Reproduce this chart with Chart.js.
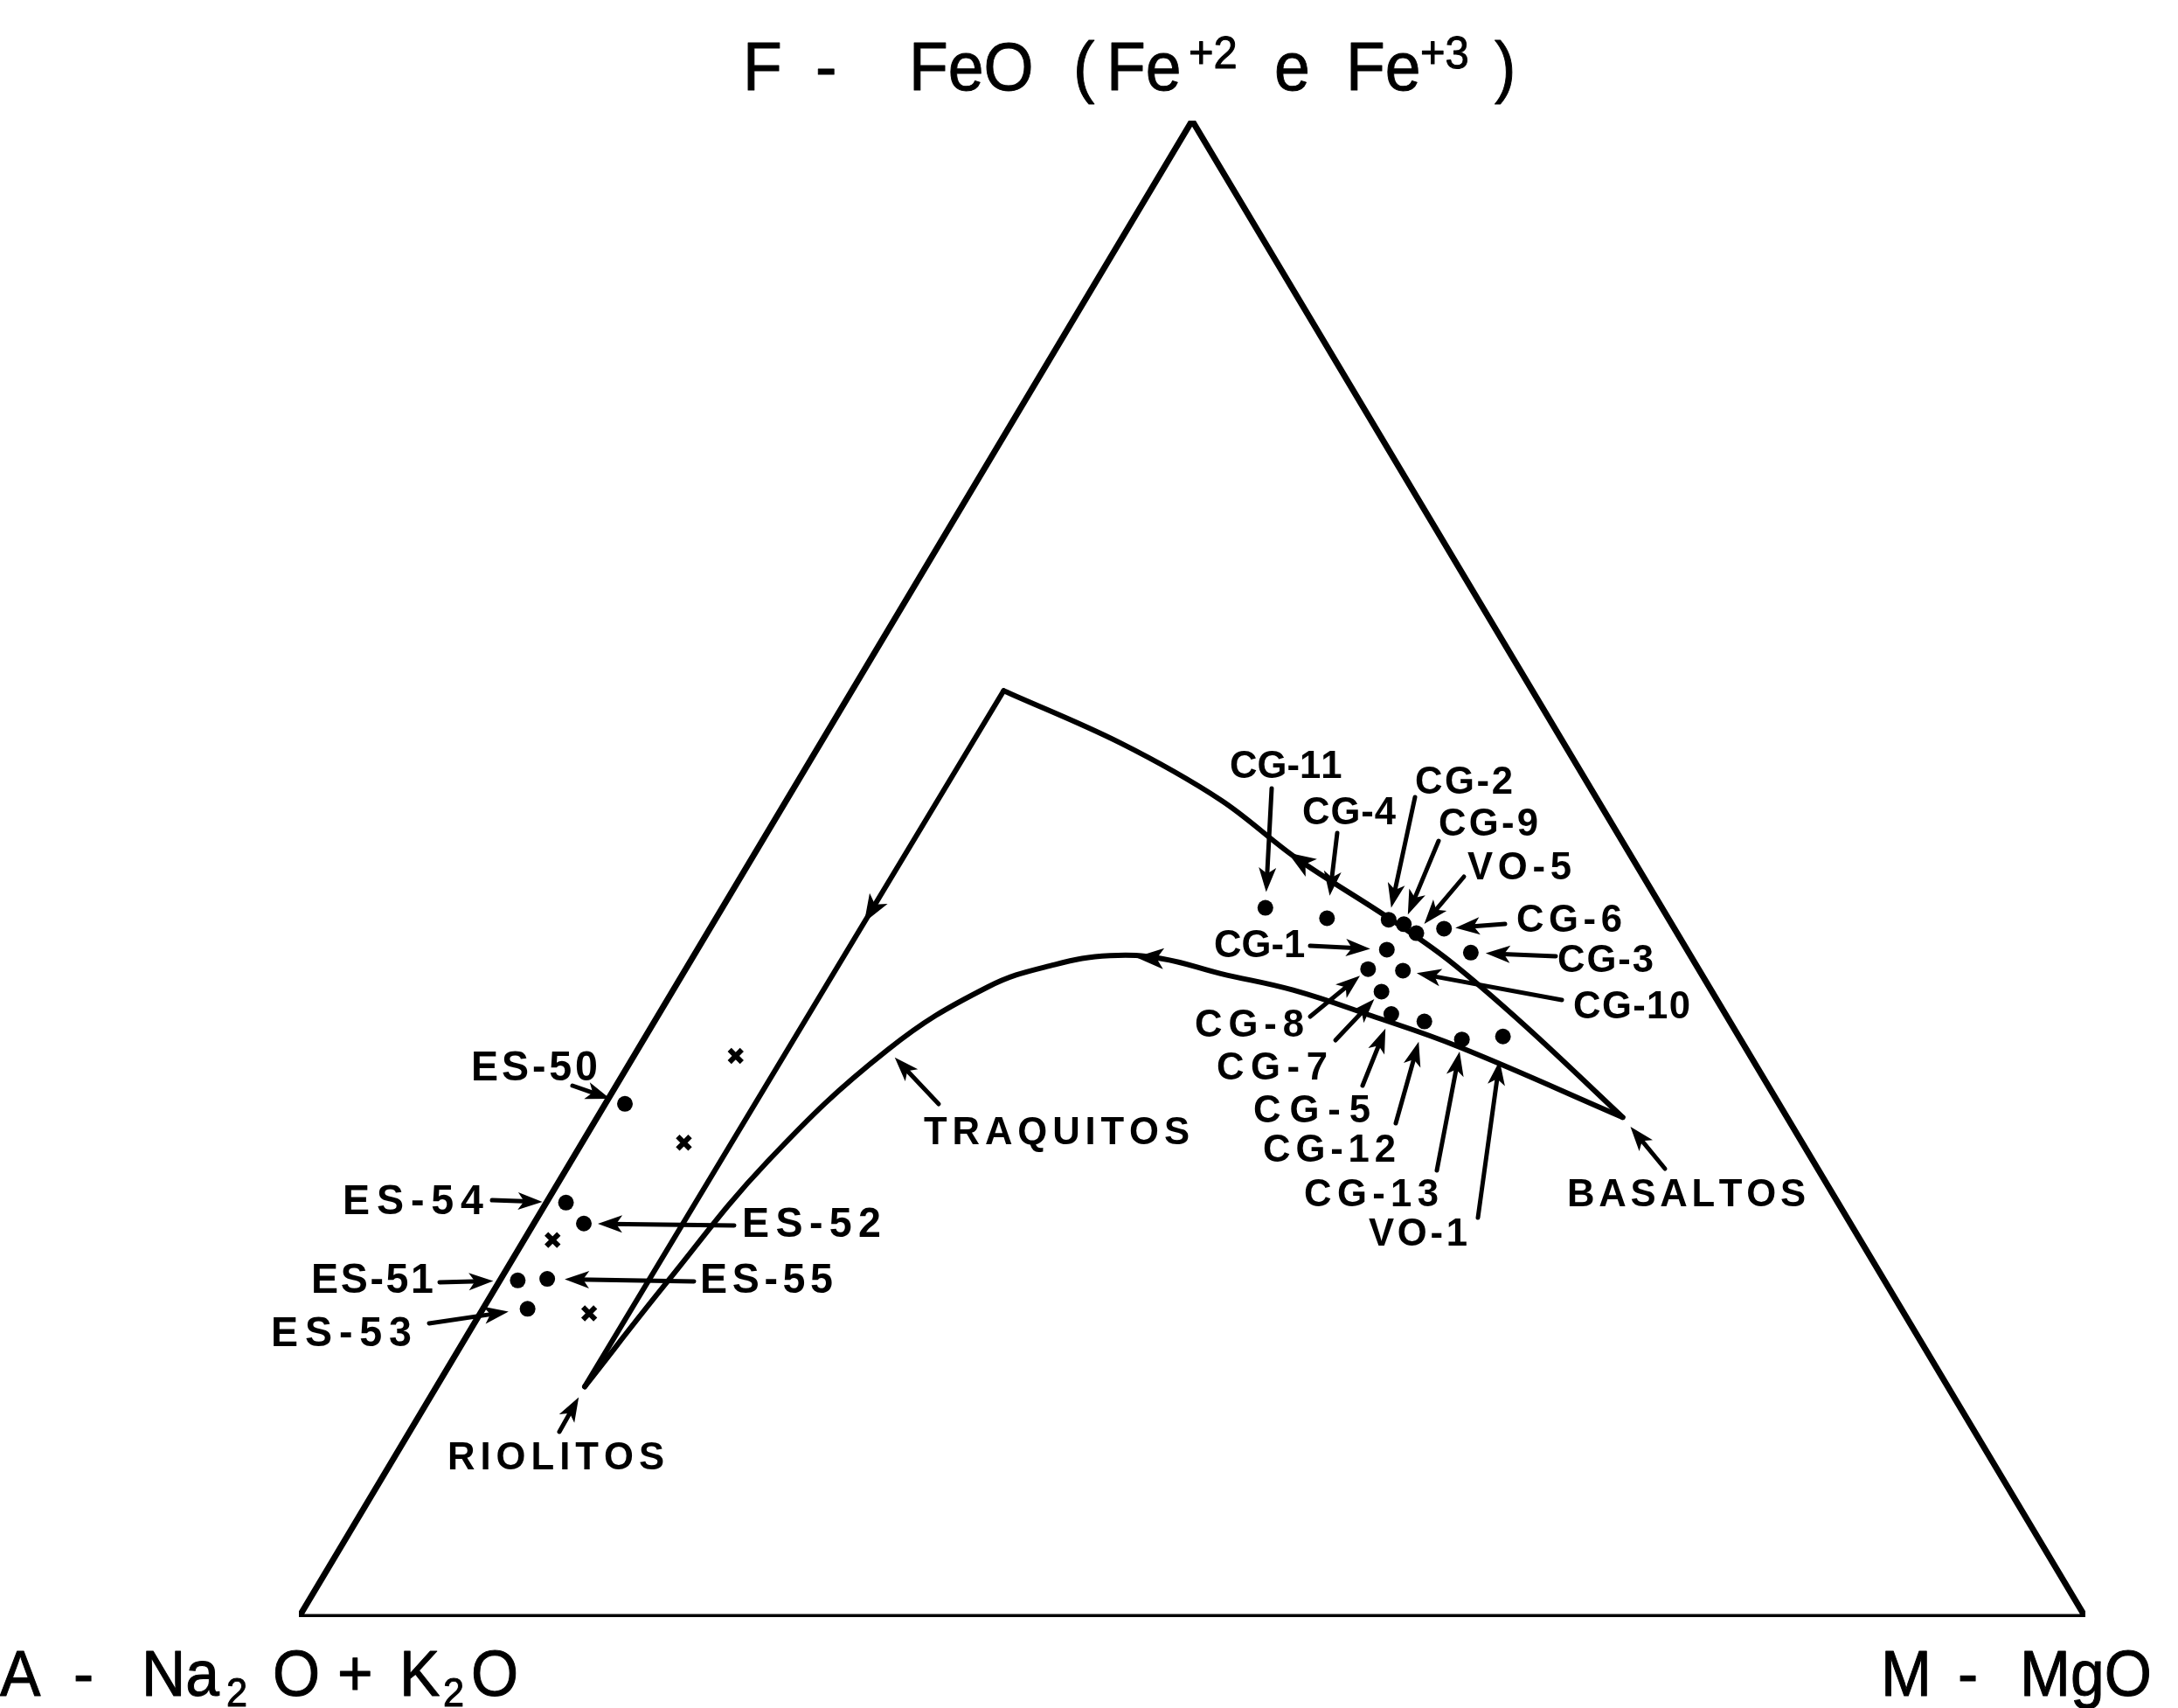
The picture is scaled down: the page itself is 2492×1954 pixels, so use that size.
<!DOCTYPE html>
<html lang="pt">
<head>
<meta charset="utf-8">
<title>Diagrama AFM</title>
<script src="https://cdn.jsdelivr.net/npm/chart.js@4.4.1/dist/chart.umd.min.js"></script>
<style>
    html, body { margin: 0; padding: 0; background: #ffffff; }
    #afm { display: block; }
</style>
</head>
<body>
<canvas id="afm" width="2492" height="1954" style="width:2492px;height:1954px"></canvas>
<script>
// Composições normalizadas [A, F, M] em %
const cgNames = ["CG-11", "CG-4", "CG-2", "CG-9", "VO-5", "CG-6", "CG-1", "CG-3",
    "CG-10", "CG-8", "CG-7", "CG-5", "CG-12", "CG-13", "VO-1"];
const cgAFM = [
    [22.2, 47.4, 30.4], [19.1, 46.7, 34.2], [15.7, 46.6, 37.7], [15.0, 46.3, 38.7],
    [14.6, 45.7, 39.7], [12.9, 46.0, 41.1], [16.8, 44.6, 38.6], [12.2, 44.4, 43.4],
    [16.6, 43.2, 40.2], [18.5, 43.3, 38.2], [18.5, 41.8, 39.7], [18.7, 40.3, 41.0],
    [17.1, 39.8, 43.1], [15.6, 38.6, 45.8], [13.2, 38.8, 48.0]
];

const esNames = ["ES-50", "ES-54", "ES-52", "ES-51", "ES-55", "ES-53"];
const esAFM = [
    [64.6, 34.3, 1.1], [71.2, 27.7, 1.1], [70.9, 26.3, 2.8],
    [76.5, 22.5, 1.0], [74.8, 22.6, 2.6], [76.9, 20.6, 2.5]
];

// amostras marcadas com x (sem rótulo)
const crossAFM = [[56.8, 37.5, 5.7], [62.6, 31.7, 5.7], [73.2, 25.2, 1.6], [73.6, 20.3, 6.1]];

// trends de diferenciação
const basaltTrend = [
    [29.6, 61.9, 8.5], [24.8, 58.4, 16.8], [21.1, 54.6, 24.3], [18.8, 50.7, 30.5],
    [15.7, 46.8, 37.5], [13.7, 43.9, 42.4], [11.6, 39.5, 48.9], [9.2, 33.4, 57.4]
];
const rhyoliteTrend = [[29.6, 61.9, 8.5], [76.3, 15.4, 8.3]];
const trachyteTrend = [
    [76.3, 15.4, 8.3], [68.3, 22.3, 9.4], [58.6, 30.4, 11.0], [48.1, 37.9, 14.0],
    [40.4, 42.1, 17.5], [35.9, 43.6, 20.5], [32.5, 44.2, 23.3], [29.7, 44.0, 26.3],
    [26.9, 43.0, 30.1], [23.4, 41.9, 34.7], [19.9, 40.2, 39.9], [16.0, 38.1, 45.9],
    [9.2, 33.4, 57.4]
];

const vertices = [[100, 0, 0], [0, 100, 0], [0, 0, 100], [100, 0, 0]];

const INK = "#000000";
const FONT = "'Liberation Sans', Arial, sans-serif";

// base do triângulo: A em x=0, M em x=100; altura = F
function toXY([a, f, m]) {
    return { x: m + f / 2, y: f };
}

// rótulos com seta: posição do texto (esquerda, centro), largura, origem da seta
const callouts = [
    { text: "CG-11", x: 1407, y: 874, w: 121, tail: [1455, 902], gap: 18 },
    { text: "CG-4", x: 1490, y: 927, w: 107, tail: [1530, 953], gap: 26 },
    { text: "CG-2", x: 1619, y: 892, w: 112, tail: [1619, 912], gap: 14 },
    { text: "CG-9", x: 1646, y: 940, w: 114, tail: [1646, 962], gap: 12 },
    { text: "VO-5", x: 1679, y: 990, w: 119, tail: [1675, 1003], gap: 14 },
    { text: "CG-6", x: 1735, y: 1050, w: 121, tail: [1722, 1057], gap: 13 },
    { text: "CG-1", x: 1389, y: 1079, w: 103, tail: [1499, 1082], gap: 19 },
    { text: "CG-3", x: 1782, y: 1096, w: 110, tail: [1780, 1094], gap: 17 },
    { text: "CG-10", x: 1800, y: 1149, w: 134, tail: [1787, 1144], gap: 16 },
    { text: "CG-8", x: 1367, y: 1170, w: 125, tail: [1499, 1163], gap: 12 },
    { text: "CG-7", x: 1392, y: 1219, w: 127, tail: [1528, 1190], gap: 12 },
    { text: "CG-5", x: 1434, y: 1268, w: 134, tail: [1559, 1242], gap: 18 },
    { text: "CG-12", x: 1445, y: 1313, w: 152, tail: [1597, 1285], gap: 24 },
    { text: "CG-13", x: 1492, y: 1364, w: 154, tail: [1644, 1339], gap: 14 },
    { text: "VO-1", x: 1566, y: 1409, w: 113, tail: [1691, 1393], gap: 28 },
    { text: "ES-50", x: 539, y: 1219, w: 145, tail: [655, 1242], gap: 18, size: 48 },
    { text: "ES-54", x: 392, y: 1372, w: 161, tail: [563, 1373], gap: 27, size: 48 },
    { text: "ES-52", x: 849, y: 1398, w: 159, tail: [840, 1402], gap: 16, size: 48 },
    { text: "ES-51", x: 356, y: 1462, w: 140, tail: [503, 1467], gap: 28, size: 48 },
    { text: "ES-55", x: 801, y: 1462, w: 152, tail: [794, 1466], gap: 20, size: 48 },
    { text: "ES-53", x: 310, y: 1523, w: 161, tail: [491, 1514], gap: 22, size: 48 },
    { text: "BASALTOS", x: 1793, y: 1364, w: 273, tail: [1905, 1337], gap: 14, trend: [1, 7] },
    { text: "TRAQUITOS", x: 1057, y: 1293, w: 304, tail: [1074, 1263], gap: 12, trend: [3, 3] },
    { text: "RIOLITOS", x: 512, y: 1665, w: 248, tail: [640, 1638], gap: 14, trend: [2, 1] }
];

// setas de sentido sobre os trends: dataset, de, para, fração
const trendArrows = [
    { set: 1, from: 4, to: 3, t: 1 },
    { set: 2, from: 0, to: 1, t: 0.32 },
    { set: 3, from: 7, to: 6, t: 0.3 }
];

// textos dos vértices (com sobrescritos e subscritos)
const cornerRuns = [
    { t: "F", x: 850, base: 103, size: 78 },
    { t: "-", x: 933, base: 103, size: 78 },
    { t: "FeO", x: 1040, base: 103, size: 78 },
    { t: "(", x: 1228, base: 103, size: 78 },
    { t: "Fe", x: 1266, base: 103, size: 78 },
    { t: "+2", x: 1360, base: 78, size: 52 },
    { t: "e", x: 1458, base: 103, size: 78 },
    { t: "Fe", x: 1540, base: 103, size: 78 },
    { t: "+3", x: 1625, base: 78, size: 52 },
    { t: ")", x: 1710, base: 103, size: 78 },
    { t: "A", x: 0, base: 1940, size: 74 },
    { t: "-", x: 84, base: 1940, size: 74 },
    { t: "Na", x: 162, base: 1940, size: 74 },
    { t: "2", x: 259, base: 1952, size: 46 },
    { t: "O", x: 312, base: 1940, size: 74 },
    { t: "+", x: 386, base: 1940, size: 74 },
    { t: "K", x: 457, base: 1940, size: 74 },
    { t: "2", x: 507, base: 1952, size: 46 },
    { t: "O", x: 539, base: 1940, size: 74 },
    { t: "M", x: 2152, base: 1940, size: 74 },
    { t: "-", x: 2240, base: 1940, size: 74 },
    { t: "MgO", x: 2311, base: 1940, size: 74 }
];

function drawSpaced(ctx, text, left, base, width, squeeze, outline) {
    const chars = Array.from(text);
    const widths = chars.map((c) => ctx.measureText(c).width * squeeze);
    const natural = widths.reduce((sum, w) => sum + w, 0);
    const gap = width && chars.length > 1 ? Math.max(0, (width - natural) / (chars.length - 1)) : 0;
    let x = left;
    chars.forEach((c, i) => {
        ctx.save();
        ctx.translate(x, base);
        ctx.scale(squeeze, 1);
        ctx.fillText(c, 0, 0);
        if (outline) {
            ctx.lineWidth = outline;
            ctx.strokeText(c, 0, 0);
        }
        ctx.restore();
        x += widths[i] + gap;
    });
}

function arrowHead(ctx, x, y, ux, uy, length, half) {
    ctx.beginPath();
    ctx.moveTo(x, y);
    ctx.lineTo(x - ux * length - uy * half, y - uy * length + ux * half);
    ctx.lineTo(x - ux * length * 0.75, y - uy * length * 0.75);
    ctx.lineTo(x - ux * length + uy * half, y - uy * length - ux * half);
    ctx.closePath();
    ctx.fill();
}

function leader(ctx, x0, y0, x1, y1, gap) {
    const len = Math.hypot(x1 - x0, y1 - y0);
    const ux = (x1 - x0) / len;
    const uy = (y1 - y0) / len;
    const hx = x1 - ux * gap;
    const hy = y1 - uy * gap;
    ctx.beginPath();
    ctx.moveTo(x0, y0);
    ctx.lineTo(hx - ux * 14, hy - uy * 14);
    ctx.stroke();
    arrowHead(ctx, hx, hy, ux, uy, 28, 10);
}

const annotationPlugin = {
    id: "afmAnnotations",
    afterDatasetsDraw(chart) {
        const ctx = chart.ctx;
        const byName = {};
        chart.getDatasetMeta(4).data.forEach((pt, i) => { byName[cgNames[i]] = pt; });
        chart.getDatasetMeta(5).data.forEach((pt, i) => { byName[esNames[i]] = pt; });

        ctx.save();
        ctx.fillStyle = INK;
        ctx.strokeStyle = INK;
        ctx.lineCap = "round";
        ctx.lineJoin = "round";

        trendArrows.forEach((a) => {
            const pts = chart.getDatasetMeta(a.set).data;
            const p0 = pts[a.from];
            const p1 = pts[a.to];
            const len = Math.hypot(p1.x - p0.x, p1.y - p0.y);
            const ux = (p1.x - p0.x) / len;
            const uy = (p1.y - p0.y) / len;
            const tx = p0.x + (p1.x - p0.x) * a.t;
            const ty = p0.y + (p1.y - p0.y) * a.t;
            arrowHead(ctx, tx + ux * 12, ty + uy * 12, ux, uy, 32, 12);
        });

        ctx.lineWidth = 5;
        ctx.textBaseline = "alphabetic";
        callouts.forEach((c) => {
            const size = c.size || 45;
            const target = c.trend
                ? chart.getDatasetMeta(c.trend[0]).data[c.trend[1]]
                : byName[c.text];
            ctx.font = `bold ${size}px ${FONT}`;
            drawSpaced(ctx, c.text, c.x, c.y + size * 0.36, c.w, 0.97, 0);
            if (target) {
                leader(ctx, c.tail[0], c.tail[1], target.x, target.y, c.gap);
            }
        });

        cornerRuns.forEach((r) => {
            ctx.font = `${r.size}px ${FONT}`;
            drawSpaced(ctx, r.t, r.x, r.base, 0, 0.94, 1);
        });
        ctx.restore();
    }
};

function lineSet(points, width, tension) {
    return {
        data: points.map(toXY),
        showLine: true,
        borderColor: INK,
        borderWidth: width,
        pointRadius: 0,
        borderCapStyle: "round",
        borderJoinStyle: "round",
        tension: tension
    };
}

function initAfmChart() {
    const canvas = document.getElementById("afm");
    new Chart(canvas, {
        type: "scatter",
        data: {
            datasets: [
                Object.assign(lineSet(vertices, 7, 0), { borderJoinStyle: "miter" }),
                lineSet(basaltTrend, 6, 0.35),
                lineSet(rhyoliteTrend, 6, 0),
                lineSet(trachyteTrend, 6, 0.4),
                { data: cgAFM.map(toXY), pointRadius: 9, backgroundColor: INK, borderWidth: 0 },
                { data: esAFM.map(toXY), pointRadius: 9, backgroundColor: INK, borderWidth: 0 },
                {
                    data: crossAFM.map(toXY),
                    pointStyle: "crossRot",
                    pointRadius: 10,
                    borderColor: INK,
                    borderWidth: 6
                }
            ]
        },
        options: {
            responsive: false,
            animation: false,
            devicePixelRatio: 1,
            layout: { padding: { left: 342, right: 106, top: 138, bottom: 104 } },
            scales: {
                x: { type: "linear", min: 0, max: 100, display: false },
                y: { type: "linear", min: 0, max: 100, display: false }
            },
            plugins: {
                legend: { display: false },
                tooltip: { enabled: false }
            }
        },
        plugins: [annotationPlugin]
    });
}

document.addEventListener("DOMContentLoaded", initAfmChart);
</script>
</body>
</html>
